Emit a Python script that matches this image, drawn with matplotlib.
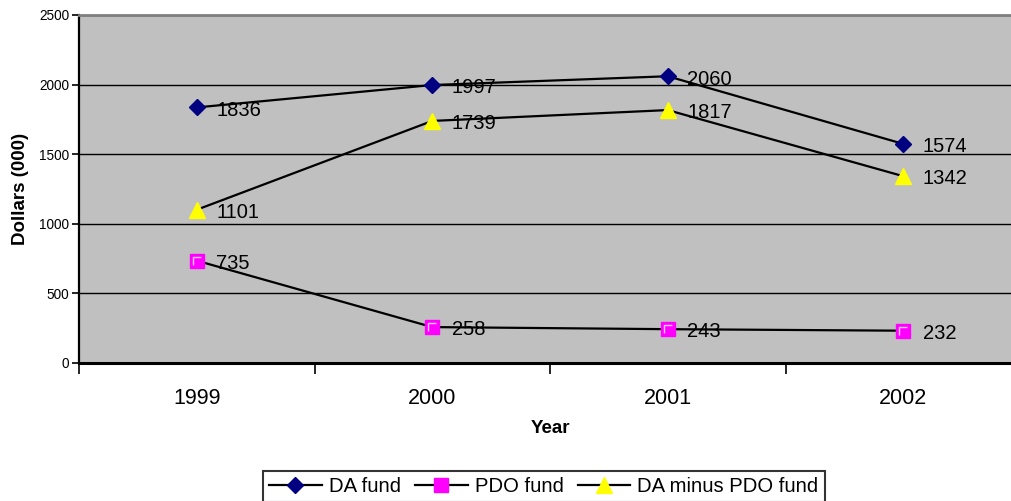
import matplotlib.pyplot as plt
from matplotlib.path import Path
from matplotlib.lines import Line2D

years = ["1999", "2000", "2001", "2002"]
da_fund = [1836, 1997, 2060, 1574]
pdo_fund = [735, 258, 243, 232]
da_minus_pdo = [1101, 1739, 1817, 1342]

plt.rcParams["font.family"] = ["Liberation Sans", "DejaVu Sans"]

fig = plt.figure(figsize=(10.11, 5.01), dpi=100)
ax = fig.add_axes([79 / 1011, 138 / 501, 942 / 1011, 348 / 501])
ax.set_facecolor("#c0c0c0")

x = list(range(len(years)))

# light corner stroke on the square markers
corner = Path([(-0.5, -0.5), (-0.5, 0.5), (0.5, 0.5)],
              [Path.MOVETO, Path.LINETO, Path.LINETO])

ax.plot(x, da_fund, color="black", lw=1.6, marker="D", ms=7.8,
        mfc="#000080", mec="#000080", zorder=3)
ax.plot(x, pdo_fund, color="black", lw=1.6, marker="s", ms=9.5,
        mfc="#ff00ff", mec="#ff00ff", zorder=3)
ax.plot(x, pdo_fund, ls="none", marker=corner, ms=5.5, mfc="none",
        mec="#ffc8ff", mew=1.0, zorder=4)
ax.plot(x, da_minus_pdo, color="black", lw=1.6, marker="^", ms=11,
        mfc="#ffff00", mec="#ffff00", zorder=3)

for series in (da_fund, pdo_fund, da_minus_pdo):
    for xi, v in zip(x, series):
        ax.annotate(str(v), (xi, v), xytext=(14, -2), textcoords="offset points",
                    ha="left", va="center", fontsize=14.5, color="black", zorder=5)

ax.set_xlim(-0.5, len(years) - 0.5)
ax.set_ylim(0, 2500)
ax.set_yticks([0, 500, 1000, 1500, 2000, 2500])
ax.tick_params(axis="y", direction="out", length=5, width=1.2, pad=2, labelsize=9.8)
ax.yaxis.grid(True, color="black", lw=1.0)
ax.set_axisbelow(True)

# ticks on category boundaries, labels at category centres
ax.set_xticks([i - 0.5 for i in range(len(years) + 1)])
ax.set_xticklabels([])
ax.set_xticks(x, minor=True)
ax.set_xticklabels(years, minor=True)
ax.tick_params(axis="x", which="major", direction="out", length=8, width=1.2)
ax.tick_params(axis="x", which="minor", length=0, pad=18, labelsize=15.5)

ax.spines["top"].set_color("#808080")
ax.spines["top"].set_linewidth(2)
ax.spines["right"].set_visible(False)
ax.spines["left"].set_linewidth(1.6)
ax.spines["bottom"].set_linewidth(2.2)

ax.set_xlabel("Year", fontsize=13.5, fontweight="bold", labelpad=8)
ax.set_ylabel("Dollars (000)", fontsize=13.5, fontweight="bold", labelpad=7)

handles = [
    Line2D([], [], color="black", lw=1.6, marker="D", ms=7.8, mfc="#000080", mec="#000080"),
    Line2D([], [], color="black", lw=1.6, marker="s", ms=9.5, mfc="#ff00ff", mec="#ff00ff"),
    Line2D([], [], color="black", lw=1.6, marker="^", ms=11, mfc="#ffff00", mec="#ffff00"),
]
leg = fig.legend(handles, ["DA fund", "PDO fund", "DA minus PDO fund"],
                 loc="upper left", bbox_to_anchor=(263 / 1011, 1 - 471 / 501),
                 ncol=3, frameon=True, fancybox=False, fontsize=14.6,
                 handlelength=2.6, handletextpad=0.35, columnspacing=0.69,
                 borderpad=0.3, borderaxespad=0)
leg.get_frame().set_edgecolor("black")
leg.get_frame().set_linewidth(1.5)

fig.savefig("out.png", dpi=100)
